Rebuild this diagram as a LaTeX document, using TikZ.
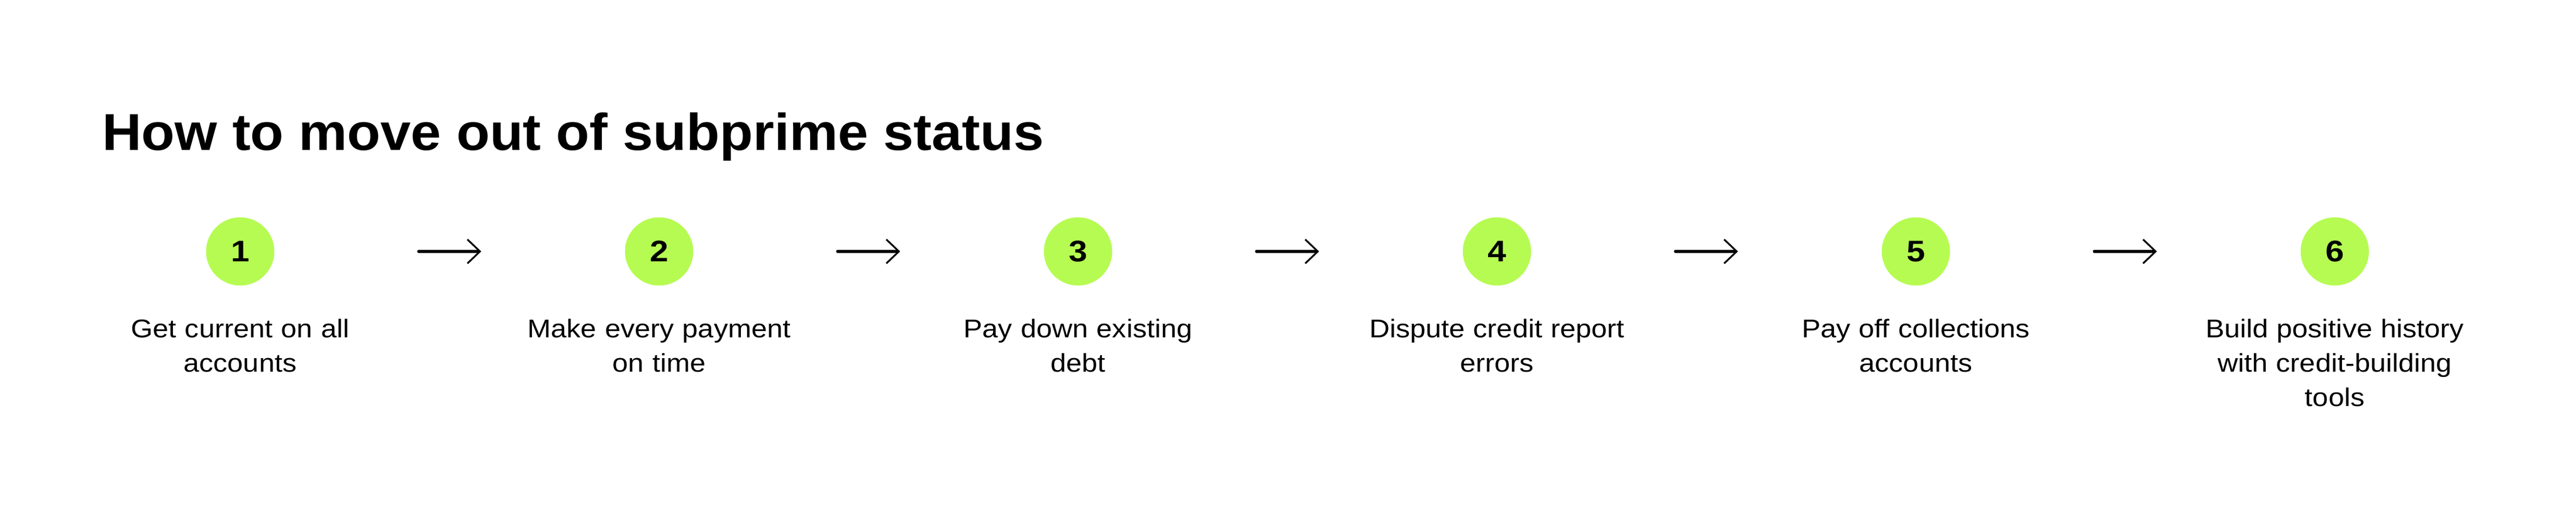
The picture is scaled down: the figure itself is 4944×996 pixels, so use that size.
\documentclass[tikz,border=0pt]{standalone}
\usepackage{fontspec}
\setmainfont{Liberation Sans}
\newfontfamily\titlefont[FakeStretch=1.05]{Liberation Sans Bold}
\newfontfamily\digitfont[FakeStretch=1.12]{Liberation Sans Bold}
\newfontfamily\labelfont[FakeStretch=1.1]{Liberation Sans}
\usetikzlibrary{arrows.meta}
\definecolor{lime}{RGB}{182,251,82}
\definecolor{ink}{RGB}{0,0,0}
\tikzset{
  stepcirc/.style={circle, fill=lime, minimum size=65.5pt, inner sep=0pt,
    text=ink, font=\digitfont\fontsize{28.6pt}{30pt}\selectfont},
  lbl/.style={anchor=base, text width=300pt, align=center, inner sep=0pt,
    text=ink, font=\labelfont\fontsize{24.6pt}{33pt}\selectfont},
  flowarrow/.style={draw=ink, line width=2.75pt, line cap=round,
    -{Straight Barb[length=12pt, width=23pt, line width=1.7pt]},
    shorten <=138.25pt, shorten >=137.75pt}
}
\begin{document}
\begin{tikzpicture}[x=0.5pt, y=-0.5pt]
\useasboundingbox[fill=white] (0,0) rectangle (4944,996);
\node[anchor=base west, inner sep=0pt, text=ink,
  font=\titlefont\fontsize{49.8pt}{52pt}\selectfont] (title) at (196,288)
  {How to move out of subprime status};
\node[stepcirc] (s1) at (461,483) {1};
\node[stepcirc] (s2) at (1265,483) {2};
\node[stepcirc] (s3) at (2069,483) {3};
\node[stepcirc] (s4) at (2873,483) {4};
\node[stepcirc] (s5) at (3677,483) {5};
\node[stepcirc] (s6) at (4481,483) {6};
\node[lbl] (l1) at (461,648) {Get current on all\\accounts};
\node[lbl] (l2) at (1265,648) {Make every payment\\on time};
\node[lbl] (l3) at (2069,648) {Pay down existing\\debt};
\node[lbl] (l4) at (2873,648) {Dispute credit report\\errors};
\node[lbl] (l5) at (3677,648) {Pay off collections\\accounts};
\node[lbl] (l6) at (4481,648) {Build positive history\\with credit-building\\tools};
\draw[flowarrow] (s1) -- (s2);
\draw[flowarrow] (s2) -- (s3);
\draw[flowarrow] (s3) -- (s4);
\draw[flowarrow] (s4) -- (s5);
\draw[flowarrow] (s5) -- (s6);
\end{tikzpicture}
\end{document}
